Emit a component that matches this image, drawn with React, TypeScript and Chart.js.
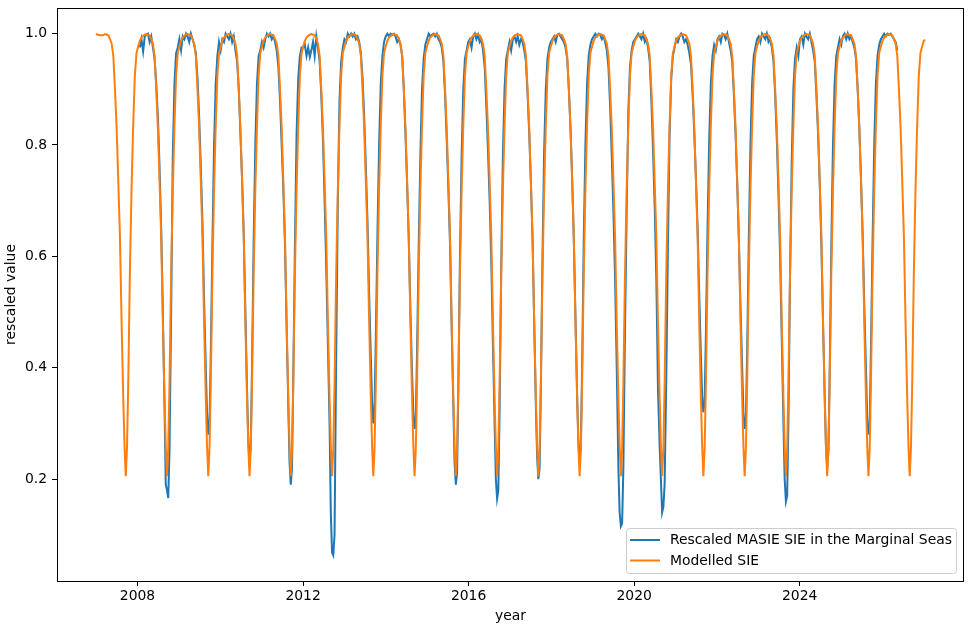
import React, { useEffect, useRef } from "react";
import { Chart, registerables } from "chart.js";

Chart.register(...registerables);

const OBS_LABEL = "Rescaled MASIE SIE in the Marginal Seas";
const MODEL_LABEL = "Modelled SIE";
const X_TITLE = "year";
const Y_TITLE = "rescaled value";

const xTicks = [2008, 2012, 2016, 2020, 2024];
const yTicks = [0.2, 0.4, 0.6, 0.8, 1.0];

// Time of the seasonal minimum of each cycle
const dipTimes = [
  2007.715, 2008.712, 2009.709, 2010.706, 2011.703, 2012.7, 2013.697, 2014.694,
  2015.691, 2016.688, 2017.685, 2018.682, 2019.679, 2020.676, 2021.673, 2022.67,
  2023.667, 2024.664, 2025.661, 2026.658,
];

// Sample times relative to each cycle's minimum (years)
const cycleOffsets = [
  -0.5, -0.46, -0.42, -0.38, -0.34, -0.3, -0.26, -0.22, -0.18, -0.14, -0.1, -0.06, -0.03,
  0, 0.03, 0.06, 0.1, 0.14, 0.18, 0.22, 0.26, 0.3, 0.34, 0.38, 0.42, 0.46,
];

// Modelled SIE: start of the record, one seasonal cycle, end of the record
const modelStartT = [2007.0, 2007.03, 2007.1, 2007.17];
const modelStartV = [1.0, 0.998, 0.997, 0.997];
const modelCycle = [
  0.999, 0.998, 0.997, 0.99, 0.982, 0.96, 0.9, 0.83, 0.735, 0.635, 0.48, 0.345, 0.26,
  0.205, 0.255, 0.37, 0.57, 0.72, 0.835, 0.925, 0.965, 0.977, 0.987, 0.993, 0.996, 0.998,
];
const modelEndT = 2027.03;
const modelEndV = 0.989;

// Rescaled MASIE SIE, one row per cycle (same order as dipTimes)
const N = null;
const obsRows: (number | null)[][] = [
  [N, N, N, N, N, N, N, N, N, N, N, N, N, N, N, N, N, N, N, N, N, N, 0.975, 0.99, 0.968, 0.995],
  [0.998, 1.0, 0.985, 0.995, 0.975, 0.955, 0.91, 0.85, 0.76, 0.65, 0.5, 0.33, 0.19, 0.18, 0.166, 0.25, 0.5, 0.78, 0.91, 0.965, 0.975, 0.99, 0.97, 0.995, 0.99, 1.0],
  [0.995, 0.985, 1.0, 0.99, 0.98, 0.965, 0.92, 0.85, 0.76, 0.66, 0.52, 0.4, 0.32, 0.28, 0.3, 0.42, 0.62, 0.8, 0.91, 0.96, 0.985, 0.97, 0.99, 0.985, 1.0, 0.995],
  [0.99, 1.0, 0.985, 0.995, 0.97, 0.95, 0.9, 0.82, 0.74, 0.64, 0.5, 0.36, 0.27, 0.23, 0.26, 0.4, 0.63, 0.8, 0.91, 0.96, 0.97, 0.985, 0.975, 0.99, 1.0, 0.995],
  [1.0, 0.99, 0.995, 0.985, 0.97, 0.94, 0.88, 0.8, 0.72, 0.62, 0.47, 0.33, 0.23, 0.19, 0.22, 0.38, 0.62, 0.82, 0.92, 0.96, 0.975, 0.975, 0.98, 0.96, 0.975, 0.958],
  [0.97, 0.985, 0.96, 0.995, 0.975, 0.95, 0.89, 0.81, 0.7, 0.58, 0.44, 0.3, 0.14, 0.068, 0.063, 0.1, 0.42, 0.7, 0.88, 0.95, 0.975, 0.99, 0.985, 1.0, 0.995, 1.0],
  [0.995, 1.0, 0.99, 0.995, 0.985, 0.965, 0.92, 0.85, 0.76, 0.66, 0.53, 0.42, 0.34, 0.3, 0.33, 0.45, 0.64, 0.8, 0.91, 0.96, 0.985, 0.995, 1.0, 0.995, 1.0, 0.998],
  [1.0, 0.995, 0.985, 0.99, 0.98, 0.96, 0.9, 0.82, 0.73, 0.63, 0.5, 0.39, 0.32, 0.29, 0.31, 0.43, 0.62, 0.78, 0.9, 0.955, 0.98, 0.99, 1.0, 0.995, 0.998, 1.0],
  [0.995, 1.0, 0.99, 0.985, 0.975, 0.95, 0.89, 0.81, 0.72, 0.62, 0.47, 0.33, 0.23, 0.19, 0.21, 0.36, 0.6, 0.78, 0.9, 0.955, 0.97, 0.985, 0.99, 0.975, 0.995, 1.0],
  [0.99, 0.998, 0.985, 0.99, 0.97, 0.94, 0.87, 0.79, 0.7, 0.59, 0.44, 0.3, 0.2, 0.165, 0.18, 0.32, 0.58, 0.78, 0.9, 0.955, 0.97, 0.985, 0.97, 0.99, 0.995, 0.985],
  [0.995, 0.98, 0.99, 0.985, 0.97, 0.95, 0.89, 0.82, 0.73, 0.63, 0.48, 0.33, 0.24, 0.2, 0.22, 0.36, 0.6, 0.79, 0.9, 0.955, 0.975, 0.985, 0.99, 0.995, 0.985, 0.998],
  [1.0, 0.995, 0.99, 0.985, 0.975, 0.955, 0.9, 0.83, 0.74, 0.63, 0.49, 0.35, 0.27, 0.23, 0.26, 0.4, 0.63, 0.8, 0.91, 0.96, 0.98, 0.99, 0.995, 1.0, 0.995, 1.0],
  [0.998, 0.99, 0.995, 0.985, 0.97, 0.94, 0.87, 0.78, 0.68, 0.56, 0.4, 0.22, 0.14, 0.115, 0.12, 0.22, 0.47, 0.68, 0.86, 0.94, 0.97, 0.985, 0.99, 0.995, 1.0, 0.995],
  [0.99, 1.0, 0.985, 0.99, 0.975, 0.95, 0.88, 0.79, 0.69, 0.56, 0.36, 0.26, 0.2, 0.14, 0.15, 0.19, 0.38, 0.62, 0.82, 0.92, 0.96, 0.975, 0.99, 0.985, 0.995, 1.0],
  [0.995, 0.985, 0.99, 0.98, 0.965, 0.945, 0.89, 0.82, 0.74, 0.65, 0.53, 0.42, 0.35, 0.32, 0.34, 0.46, 0.65, 0.81, 0.91, 0.96, 0.98, 0.97, 0.99, 0.995, 0.985, 1.0],
  [0.998, 0.99, 1.0, 0.985, 0.97, 0.95, 0.89, 0.82, 0.73, 0.63, 0.51, 0.4, 0.32, 0.29, 0.31, 0.43, 0.63, 0.8, 0.91, 0.96, 0.975, 0.99, 0.995, 0.985, 1.0, 0.995],
  [0.99, 1.0, 0.985, 0.99, 0.975, 0.95, 0.89, 0.81, 0.71, 0.6, 0.45, 0.3, 0.2, 0.16, 0.17, 0.3, 0.57, 0.77, 0.9, 0.955, 0.975, 0.96, 0.99, 0.995, 0.98, 1.0],
  [0.995, 0.99, 1.0, 0.985, 0.97, 0.95, 0.89, 0.82, 0.73, 0.62, 0.48, 0.35, 0.26, 0.22, 0.25, 0.39, 0.62, 0.8, 0.91, 0.96, 0.975, 0.99, 0.98, 0.995, 1.0, 0.99],
  [1.0, 0.99, 0.995, 0.985, 0.975, 0.955, 0.9, 0.83, 0.74, 0.64, 0.51, 0.4, 0.31, 0.28, 0.3, 0.43, 0.63, 0.8, 0.91, 0.96, 0.98, 0.99, 0.995, 1.0, 0.995, 1.0],
  [0.998, 1.0, 0.995, 0.99, 0.985, 0.97, N, N, N, N, N, N, N, N, N, N, N, N, N, N, N, N, N, N, N, N],
];

const X_MIN = 2006.054;
const X_MAX = 2027.97;
const Y_MIN = 0.017;
const Y_MAX = 1.046;

const BLUE = "#1f77b4";
const ORANGE = "#ff7f0e";
const FONT_FAMILY = "'DejaVu Sans', sans-serif";
const FONT_SIZE = 13.9;

function buildModelled() {
  const pts: { x: number; y: number }[] = [];
  modelStartT.forEach((t, i) => pts.push({ x: t, y: modelStartV[i] }));
  const lastStart = modelStartT[modelStartT.length - 1];
  dipTimes.forEach((d) => {
    cycleOffsets.forEach((o, j) => {
      const t = d + o;
      if (t > lastStart && t < modelEndT) pts.push({ x: t, y: modelCycle[j] });
    });
  });
  pts.push({ x: modelEndT, y: modelEndV });
  return pts;
}

function buildObserved() {
  const pts: { x: number; y: number }[] = [];
  dipTimes.forEach((d, i) => {
    const row = obsRows[i];
    cycleOffsets.forEach((o, j) => {
      const v = row[j];
      if (v !== null && v !== undefined) pts.push({ x: d + o, y: v });
    });
  });
  return pts;
}

const framePlugin = {
  id: "frameAndLegend",
  afterDraw(chart: any) {
    const { ctx, chartArea } = chart;
    const { left, right, top, bottom } = chartArea;
    ctx.save();
    ctx.strokeStyle = "#000";
    ctx.lineWidth = 1;
    ctx.strokeRect(Math.round(left) + 0.5, Math.round(top) + 0.5, Math.round(right - left) - 1, Math.round(bottom - top));

    // legend (lower right, inside axes)
    const bx = 626.5, by = 528.5, bw = 330, bh = 45, r = 3;
    ctx.beginPath();
    ctx.moveTo(bx + r, by);
    ctx.lineTo(bx + bw - r, by);
    ctx.arcTo(bx + bw, by, bx + bw, by + r, r);
    ctx.lineTo(bx + bw, by + bh - r);
    ctx.arcTo(bx + bw, by + bh, bx + bw - r, by + bh, r);
    ctx.lineTo(bx + r, by + bh);
    ctx.arcTo(bx, by + bh, bx, by + bh - r, r);
    ctx.lineTo(bx, by + r);
    ctx.arcTo(bx, by, bx + r, by, r);
    ctx.closePath();
    ctx.fillStyle = "rgba(255,255,255,0.8)";
    ctx.fill();
    ctx.strokeStyle = "#cccccc";
    ctx.lineWidth = 1;
    ctx.stroke();

    const items = chart.data.datasets.map((ds: any) => ({ label: ds.label, color: ds.borderColor }));
    const rowY = [540, 560.5];
    items.forEach((it: any, i: number) => {
      ctx.beginPath();
      ctx.strokeStyle = it.color;
      ctx.lineWidth = 2;
      ctx.moveTo(630, rowY[i]);
      ctx.lineTo(660, rowY[i]);
      ctx.stroke();
      ctx.fillStyle = "#000";
      ctx.font = `${FONT_SIZE}px ${FONT_FAMILY}`;
      ctx.textAlign = "left";
      ctx.textBaseline = "middle";
      ctx.fillText(it.label, 670, rowY[i] + 0.5);
    });
    ctx.restore();
  },
};

export default function App() {
  const canvasRef = useRef<HTMLCanvasElement | null>(null);

  useEffect(() => {
    if (!canvasRef.current) return;
    const chart = new Chart(canvasRef.current, {
      type: "line",
      data: {
        datasets: [
          {
            label: OBS_LABEL,
            data: buildObserved(),
            borderColor: BLUE,
            backgroundColor: BLUE,
            borderWidth: 2,
            pointRadius: 0,
            fill: false,
            order: 1,
          },
          {
            label: MODEL_LABEL,
            data: buildModelled(),
            borderColor: ORANGE,
            backgroundColor: ORANGE,
            borderWidth: 2,
            pointRadius: 0,
            fill: false,
            order: 0,
          },
        ],
      },
      options: {
        animation: false,
        responsive: false,
        devicePixelRatio: 1,
        layout: { padding: { left: 0, right: 13, top: 8, bottom: 0 } },
        scales: {
          x: {
            type: "linear",
            min: X_MIN,
            max: X_MAX,
            afterBuildTicks: (s: any) => {
              s.ticks = xTicks.map((v) => ({ value: v }));
            },
            afterFit: (s: any) => {
              s.height = 45;
              s.paddingLeft = 0;
              s.paddingRight = 0;
              s.paddingTop = 0;
              s.paddingBottom = 0;
            },
            grid: { drawOnChartArea: false, drawTicks: true, tickLength: 5, tickWidth: 1, tickColor: "#000" },
            border: { display: false },
            ticks: {
              color: "#000",
              font: { family: FONT_FAMILY, size: FONT_SIZE },
              padding: 2,
              maxRotation: 0,
              autoSkip: false,
              callback: (v: any) => String(v),
            },
            title: {
              display: true,
              text: X_TITLE,
              color: "#000",
              font: { family: FONT_FAMILY, size: FONT_SIZE },
              padding: { top: 0, bottom: 1.7 },
            },
          },
          y: {
            type: "linear",
            min: Y_MIN,
            max: Y_MAX,
            afterBuildTicks: (s: any) => {
              s.ticks = yTicks.map((v) => ({ value: v }));
            },
            afterFit: (s: any) => {
              s.width = 57;
              s.paddingLeft = 0;
              s.paddingRight = 0;
              s.paddingTop = 0;
              s.paddingBottom = 0;
            },
            grid: { drawOnChartArea: false, drawTicks: true, tickLength: 5, tickWidth: 1, tickColor: "#000" },
            border: { display: false },
            ticks: {
              color: "#000",
              font: { family: FONT_FAMILY, size: FONT_SIZE },
              padding: 5,
              autoSkip: false,
              callback: (v: any) => Number(v).toFixed(1),
            },
            title: {
              display: true,
              text: Y_TITLE,
              color: "#000",
              font: { family: FONT_FAMILY, size: FONT_SIZE },
              padding: { top: 2.7, bottom: 0 },
            },
          },
        },
        plugins: {
          legend: { display: false },
          tooltip: { enabled: false },
        },
      },
      plugins: [framePlugin],
    } as any);
    return () => chart.destroy();
  }, []);

  return (
    <div style={{ position: "absolute", left: 0, top: 0, width: 977, height: 626, background: "#fff" }}>
      <canvas ref={canvasRef} width={977} height={626} style={{ display: "block" }} />
    </div>
  );
}
